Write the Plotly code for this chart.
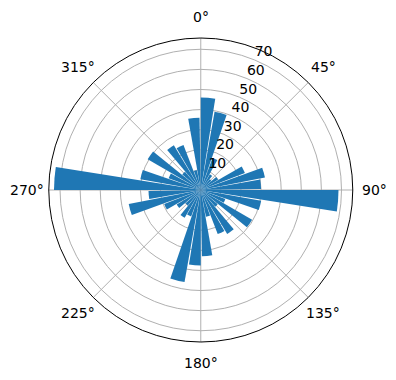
import math
import plotly.graph_objects as go

bin_starts = list(range(0, 360, 10))
counts = [46, 39.5, 17, 9, 7, 10, 23.5, 32.5, 30,
          68.5, 30.5, 13, 29.5, 11, 25.5, 23.5, 13.5, 33,
          37.5, 46.5, 14, 16, 10, 14, 19.5, 36.5, 26,
          73, 30.5, 17, 30.5, 12, 26, 24, 10, 36]
bar_width = 9
radial_ticks = [10, 20, 30, 40, 50, 60, 70]
radial_label_angle = 22.5
angle_ticks = [0, 45, 90, 135, 180, 225, 270, 315]
angle_labels = [f"{a}°" for a in angle_ticks]

W, H = 396, 380
r_max = 75.6
dom_x = [0.123, 0.891]
dom_y = [0.1, 0.9]
label_pad = 1.14  # label radius relative to the outer circle

theta = [s + bar_width / 2 for s in bin_starts]

fig = go.Figure()
fig.add_trace(go.Barpolar(
    r=counts, theta=theta, width=[bar_width] * len(counts),
    marker=dict(color="#1f77b4", line=dict(width=0)),
    opacity=1, hoverinfo="skip",
))
fig.add_trace(go.Scatterpolar(
    r=radial_ticks, theta=[radial_label_angle] * len(radial_ticks),
    mode="text", text=[str(t) for t in radial_ticks],
    textposition="top right",
    textfont=dict(family="DejaVu Sans", size=14, color="black"),
    hoverinfo="skip", cliponaxis=False,
))

# angular tick labels placed around the outer circle
cx = (dom_x[0] + dom_x[1]) / 2
cy = (dom_y[0] + dom_y[1]) / 2
R_px = (dom_x[1] - dom_x[0]) * W / 2 * label_pad
annotations = []
for a, lab in zip(angle_ticks, angle_labels):
    rad = math.radians(a)
    annotations.append(dict(
        x=cx + R_px * math.sin(rad) / W, y=cy + R_px * math.cos(rad) / H,
        xref="paper", yref="paper", text=lab, showarrow=False,
        xanchor="center", yanchor="middle",
        font=dict(family="DejaVu Sans", size=14, color="black"),
    ))

fig.update_layout(
    width=W, height=H,
    margin=dict(l=0, r=0, t=0, b=0),
    paper_bgcolor="white",
    showlegend=False,
    font=dict(family="DejaVu Sans", size=14, color="black"),
    annotations=annotations,
    polar=dict(
        domain=dict(x=dom_x, y=dom_y),
        bgcolor="white",
        bargap=0,
        angularaxis=dict(
            direction="clockwise", rotation=90,
            tickvals=angle_ticks, showticklabels=False,
            showgrid=True, gridcolor="#b0b0b0", gridwidth=0.8,
            showline=True, linecolor="black", linewidth=1,
            ticks="",
        ),
        radialaxis=dict(
            range=[0, r_max], tickvals=radial_ticks,
            showticklabels=False,
            showgrid=True, gridcolor="#b0b0b0", gridwidth=0.8,
            showline=False, ticks="",
        ),
    ),
)

fig.write_html("out.html")
